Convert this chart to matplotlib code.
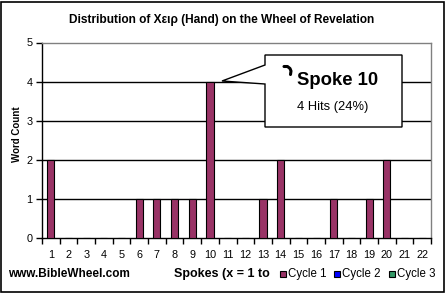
import matplotlib
matplotlib.use("Agg")
import matplotlib.pyplot as plt
from matplotlib.patches import Rectangle, Polygon
from matplotlib.lines import Line2D

# ---- data ----
spokes = list(range(1, 23))
cycle1 = [2, 0, 0, 0, 0, 1, 1, 1, 1, 4, 0, 0, 1, 2, 0, 0, 1, 0, 1, 2, 0, 0]
cycle2 = [0] * 22
cycle3 = [0] * 22
series_names = ["Cycle 1", "Cycle 2", "Cycle 3"]
series_colors = ["#993366", "#0000FF", "#339966"]
yticks = [0, 1, 2, 3, 4, 5]

W, H = 446, 293
fig = plt.figure(figsize=(W / 100, H / 100), dpi=100)
fig.patch.set_facecolor("white")
FONT = "Liberation Sans"

def fx(x):
    return x / W

def fy(y):
    return 1 - y / H

ax = fig.add_axes([fx(42), fy(238), fx(431) - fx(42), fy(42.5) - fy(238)])
ax.set_facecolor("white")

ax.bar(spokes, cycle1, width=0.4, color=series_colors[0], edgecolor="black",
       linewidth=0.8, zorder=3)
ax.bar(spokes, cycle2, width=0.4, color=series_colors[1], zorder=3)
ax.bar(spokes, cycle3, width=0.4, color=series_colors[2], zorder=3)

ax.set_xlim(0.5, 22.5)
ax.set_ylim(0, 5)
ax.set_yticks(yticks)
for yv in yticks[1:-1]:
    ax.axhline(yv, color="black", lw=1, zorder=1)

ax.set_xticks(spokes)
ax.set_xticks([s - 0.5 for s in spokes] + [22.5], minor=True)
ax.tick_params(axis="x", which="major", length=0, pad=9, labelsize=7.8)
ax.tick_params(axis="x", which="minor", length=4, width=1, direction="out", color="black")
ax.tick_params(axis="y", length=4, width=1, direction="out", labelsize=7.8, pad=3)
for lab in ax.get_xticklabels() + ax.get_yticklabels():
    lab.set_fontfamily(FONT)
ax.spines["left"].set_color("black")
ax.spines["bottom"].set_color("black")
ax.spines["top"].set_color("#808080")
ax.spines["right"].set_color("#808080")
for s in ax.spines.values():
    s.set_linewidth(1)

# title
fig.text(fx(222), fy(20.5),
         "Distribution of Χειρ (Hand) on the Wheel of Revelation",
         ha="center", va="center", fontsize=8.6, fontweight="bold",
         fontfamily=FONT)

# y label
fig.text(fx(16.5), fy(134), "Word Count", rotation=90, ha="center", va="center",
         fontsize=7.0, fontweight="bold", fontfamily=FONT)

# bottom texts
fig.text(fx(8), fy(274), "www.BibleWheel.com", ha="left", va="center",
         fontsize=8.5, fontweight="bold", fontfamily=FONT)
fig.text(fx(174), fy(274.5), "Spokes (x = 1 to", ha="left", va="center",
         fontsize=9.0, fontweight="bold", fontfamily=FONT)

# legend
leg_x = [280, 334, 389]
for name, col, lx in zip(series_names, series_colors, leg_x):
    fig.patches.append(Rectangle((fx(lx), fy(276.5)), 6 / W, 6 / H,
                                 transform=fig.transFigure, facecolor=col,
                                 edgecolor="black", lw=0.8, zorder=3))
    fig.text(fx(lx + 8), fy(273.5), name, ha="left", va="center",
             fontsize=8.3, fontfamily=FONT)

# callout
pts = [(265, 55), (402, 55), (402, 127), (265, 127), (265, 84), (222, 81), (265, 65)]
fig.patches.append(Polygon([(fx(x), fy(y)) for x, y in pts], closed=True,
                           transform=fig.transFigure, facecolor="white",
                           edgecolor="black", lw=1, zorder=2))
fig.text(fx(297), fy(85), "Spoke 10", ha="left", va="baseline", fontsize=13.3,
         fontweight="bold", fontfamily=FONT, zorder=4)
fig.text(fx(297), fy(107), "4 Hits (24%)", ha="left", va="center", fontsize=9.3,
         fontfamily=FONT, zorder=4)
hook = [(284, 66.5), (287.5, 66.5), (290, 68.5), (291, 71), (290.5, 74.5)]
fig.lines.append(Line2D([fx(x) for x, y in hook], [fy(y) for x, y in hook],
                        transform=fig.transFigure, color="black", lw=2.2,
                        solid_capstyle="round", zorder=4))

# outer border
fig.patches.append(Rectangle((0.5 / W, 1.5 / H), (W - 3) / W, (H - 3) / H,
                             transform=fig.transFigure, fill=False,
                             edgecolor="black", lw=1.2, zorder=5))

fig.savefig("out.png", dpi=100)
